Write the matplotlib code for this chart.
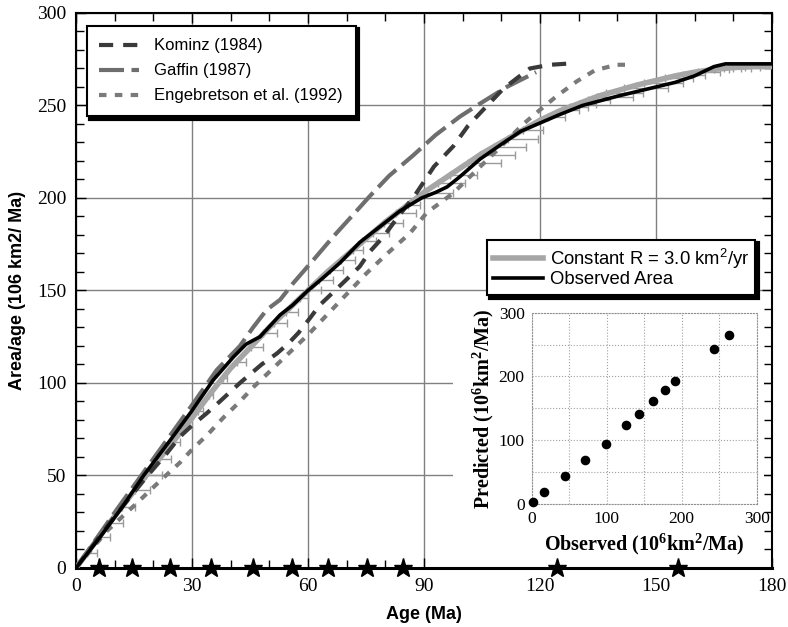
import matplotlib
matplotlib.use('Agg')
import matplotlib.pyplot as plt
from matplotlib.patches import Rectangle
from matplotlib.ticker import MultipleLocator

plt.rcParams['mathtext.fontset'] = 'custom'
plt.rcParams['mathtext.rm'] = 'Liberation Sans'
plt.rcParams['mathtext.bf'] = 'Liberation Serif:bold'

# observed area/age
obs_age = [0, 6, 12, 17.5, 24, 30, 35.5, 40.7, 44, 47.6, 52.8, 56, 60, 64, 68.3, 73.4,
           78.6, 83.8, 89.4, 93, 96, 99.3, 104.5, 110, 115, 120, 125, 131, 140, 150,
           155, 160, 163, 165, 168, 172, 180]
obs_val = [0, 16, 33, 50, 68, 85, 101.6, 114, 121, 125, 136.8, 142, 150, 157, 165, 176,
           184.5, 193, 200, 203, 206, 211.5, 221, 229, 236, 240.5, 245, 250, 255, 260,
           262.5, 266, 269, 271, 272.5, 272.5, 272.5]

# constant R = 3.0 km2/yr model
con_age = [0, 10, 20, 30, 35, 40, 45, 50, 55, 60, 65, 70, 75, 80, 85, 90, 95, 100, 105,
           110, 115, 120, 125, 130, 135, 140, 145, 150, 155, 160, 165, 170, 175, 180]
con_val = [0, 28, 55, 81, 95, 108, 119, 130, 140, 150, 160, 169, 178, 187, 195, 203, 210,
           217, 224, 230, 236, 242, 247, 251, 255, 258, 261, 263.5, 266, 268, 269.5,
           270.5, 271, 271]

# age error bars on the model points
bar_val = [8, 17, 24.5, 33, 42, 50, 59, 68, 77, 85, 93.5, 102.5, 111.5, 119.6, 126.9,
           132.3, 138.6, 145.8, 150.3, 155.7, 161, 166.5, 171.9, 176.5, 181, 186.3, 191.7,
           196.2, 202.5, 208, 212.4, 218.8, 223.2, 227.7, 232, 236.8, 244, 247.6, 249.3,
           251, 253, 254.8, 256.6, 259.3, 262, 264.7, 266.5, 268.3, 269.5, 270, 270.5, 271]
bar_lo = [2.9, 6.1, 8.8, 11.9, 15.2, 18.2, 21.5, 24.8, 28.4, 31.5, 34.5, 37.9, 41.7, 45.3,
          48.5, 51.2, 54.3, 57.9, 60, 62.9, 65.6, 68.6, 71.6, 74.1, 76.7, 79.6, 82.9, 85.8,
          89.7, 93.6, 96.7, 101.3, 104.4, 108.1, 111.7, 115.7, 122, 125.6, 127.9, 130,
          132.5, 134.8, 137.2, 141.8, 147, 152.3, 157, 160.8, 165, 167.5, 170, 173]
bar_hi = [5.4, 8.8, 12.1, 15.3, 19.1, 22.2, 24.5, 26.9, 29.9, 32.9, 35.5, 39, 44.1, 48.4,
          51.9, 54.5, 57.5, 60, 63.5, 66.5, 69.1, 72.1, 74.3, 77.5, 81, 84.6, 88, 89,
          97.6, 100.6, 103.6, 110, 113.5, 116.5, 119.5, 120.8, 126.5, 130, 132.5, 134.6,
          138, 144, 146.7, 153, 157, 159.6, 162.6, 166.5, 169, 172, 174.7, 176.9]

kom_age = [0, 10, 18.3, 23.5, 26.9, 30, 33.8, 37.2, 42.4, 48, 52, 55, 57.5, 60.5, 63, 66.5,
           70, 73.4, 76, 79.5, 83, 87.7, 92.6, 97.6, 101.4, 105.3, 110.5, 115.7, 117.4,
           122.6, 128.6]
kom_val = [0, 28, 49.4, 62, 71, 77, 83.6, 90, 100, 110, 116, 121.5, 127, 135, 142, 149,
           156, 163, 171, 179, 189, 201.6, 217, 228, 239, 247.6, 259, 267.4, 270, 272,
           272.8]

gaf_age = [0, 10, 20, 30, 36.4, 42.4, 45.8, 49.3, 52.8, 56.2, 61.4, 66.5, 71.7, 76, 81,
           87.2, 93, 99.3, 104.5, 111.4, 119]
gaf_val = [0, 30, 59, 88, 107, 120, 130, 139.5, 145, 154, 166.5, 179, 191, 201, 212, 223,
           234, 244, 251, 260, 268]

eng_age = [0, 8, 15.7, 21.7, 26.9, 30, 34, 38, 42.4, 46, 50, 55, 60, 65, 70, 75, 80, 86.4,
           90.7, 97.5, 103.6, 110, 115.7, 120, 124.3, 129.5, 134.2, 139.8, 142]
eng_val = [0, 20, 35, 47, 57, 64, 72, 81, 90, 98, 106, 116, 126, 137, 148, 159, 169, 181,
           192, 202.5, 215, 228, 240, 247.6, 255, 263, 269, 272, 272]

star_age = [5.9, 14.6, 24.3, 34.8, 45.7, 55.9, 65.2, 75.2, 84.6, 124.4, 155.7]

# inset: predicted vs observed
ins_obs = [2.2, 16.9, 44.9, 71.6, 99.1, 125.8, 143.1, 161.3, 177.8, 191.1, 242.7, 263.1]
ins_pred = [2.6, 18.3, 44.4, 68.5, 94.1, 123.9, 141.1, 161, 178.3, 192.4, 243.6, 264.5]

fig = plt.figure(figsize=(7.88, 6.27), dpi=100)
ax = fig.add_axes([0.0964, 0.0941, 0.8832, 0.8852])
ax.set_xlim(0, 180)
ax.set_ylim(0, 300)
ax.xaxis.set_major_locator(MultipleLocator(30))
ax.xaxis.set_minor_locator(MultipleLocator(10))
ax.yaxis.set_major_locator(MultipleLocator(50))
ax.yaxis.set_minor_locator(MultipleLocator(10))
ax.grid(True, which='major', color='#808080', lw=1.0)
ax.tick_params(which='both', direction='in', top=True, right=True, color='black',
               labelsize=14, pad=7)
ax.tick_params(which='major', length=7, width=1)
ax.tick_params(which='minor', length=6, width=1)
for lab in ax.get_xticklabels() + ax.get_yticklabels():
    lab.set_fontfamily('Liberation Serif')
for s in ['left', 'top', 'right']:
    ax.spines[s].set_linewidth(1.5)
ax.spines['bottom'].set_linewidth(2.2)

# white area behind the inset
ax.add_patch(Rectangle((97.5, 0), 80.5, 148.6, facecolor='white', edgecolor='none',
                       zorder=1.6))

ax.errorbar(bar_lo, bar_val, xerr=[[0] * len(bar_lo),
            [h - l for h, l in zip(bar_hi, bar_lo)]], fmt='none', ecolor='#9a9a9a',
            elinewidth=1, capsize=3, capthick=1, zorder=2)
ax.plot(con_age, con_val, color='#a6a6a6', lw=4, zorder=3,
        label='Constant R = 3.0 km$^2$/yr')
ax.plot(gaf_age, gaf_val, color='#6e6e6e', lw=3, dashes=(6, 1.8), zorder=3.5,
        label='Gaffin (1987)')
ax.plot(kom_age, kom_val, color='#3a3a3a', lw=3, dashes=(3.4, 2.4), zorder=3.6,
        label='Kominz (1984)')
ax.plot(eng_age, eng_val, color='#7a7a7a', lw=3, dashes=(1.8, 2.0), zorder=3.7,
        label='Engebretson et al. (1992)')
ax.plot(obs_age, obs_val, color='black', lw=2.6, zorder=4, label='Observed Area')
ax.plot(star_age, [0] * len(star_age), ls='none', marker='*', ms=14, color='black',
        clip_on=False, zorder=6)

ax.set_xlabel('Age (Ma)', fontsize=13, fontweight='bold', fontfamily='Liberation Sans',
              labelpad=8)
ax.set_ylabel('Area/age (106 km2/ Ma)', fontsize=13, fontweight='bold',
              fontfamily='Liberation Sans', labelpad=8)

h, l = ax.get_legend_handles_labels()
hd = dict(zip(l, h))
shadow = {'facecolor': 'black', 'edgecolor': 'black', 'alpha': 1, 'linewidth': 3}
leg1 = ax.legend([hd['Kominz (1984)'], hd['Gaffin (1987)'], hd['Engebretson et al. (1992)']],
                 ['Kominz (1984)', 'Gaffin (1987)', 'Engebretson et al. (1992)'],
                 loc='upper left', bbox_to_anchor=(0.0158, 0.9766), borderaxespad=0,
                 prop={'family': 'Liberation Sans', 'size': 12}, fancybox=False,
                 edgecolor='black', framealpha=1, shadow=shadow, handlelength=2.4,
                 handletextpad=0.9, labelspacing=0.6, borderpad=0.75)
leg1.get_frame().set_linewidth(1.5)
ax.add_artist(leg1)
leg2 = ax.legend([hd['Constant R = 3.0 km$^2$/yr'], hd['Observed Area']],
                 ['Constant R = 3.0 km$^2$/yr', 'Observed Area'],
                 loc='upper left', bbox_to_anchor=(0.5905, 0.591), borderaxespad=0,
                 prop={'family': 'Liberation Sans', 'size': 13.3}, fancybox=False,
                 edgecolor='black', framealpha=1, shadow=shadow, handlelength=2.7,
                 handletextpad=0.35, labelspacing=0.05, borderpad=0.35)
leg2.get_frame().set_linewidth(1.5)
leg1.set_zorder(7)
leg2.set_zorder(7)

# inset
ins = fig.add_axes([0.6747, 0.1962, 0.2855, 0.3051])
ins.set_xlim(0, 300)
ins.set_ylim(0, 300)
ins.xaxis.set_major_locator(MultipleLocator(100))
ins.yaxis.set_major_locator(MultipleLocator(100))
ins.xaxis.set_minor_locator(MultipleLocator(50))
ins.yaxis.set_minor_locator(MultipleLocator(50))
ins.grid(True, which='both', color='#a0a0a0', ls=':', lw=0.8)
ins.tick_params(which='both', length=0, labelsize=12.5, pad=5)
for lab in ins.get_xticklabels() + ins.get_yticklabels():
    lab.set_fontfamily('Liberation Serif')
for s in ins.spines.values():
    s.set_linestyle(':')
    s.set_color('#909090')
    s.set_linewidth(0.8)
ins.scatter(ins_obs, ins_pred, s=35, color='black', zorder=3, clip_on=False)
ins.set_xlabel('Observed (10$^{\\mathbf{6}}$km$^{\\mathbf{2}}$/Ma)', fontsize=14.5,
               fontweight='bold', fontfamily='Liberation Serif', labelpad=3)
ins.set_ylabel('Predicted (10$^{\\mathbf{6}}$km$^{\\mathbf{2}}$/Ma)', fontsize=14.5,
               fontweight='bold', fontfamily='Liberation Serif', labelpad=2)

fig.savefig('out.png', dpi=100)
